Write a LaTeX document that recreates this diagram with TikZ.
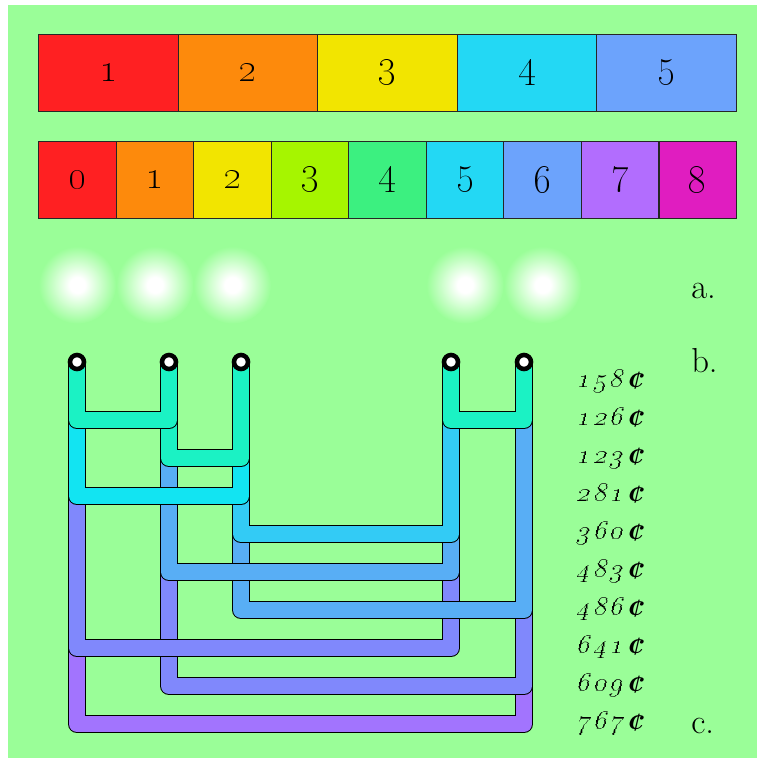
\documentclass[tikz,border=0pt]{standalone}
\usepackage{tikz}

\definecolor{boardgreen}{RGB}{154,254,152}
\definecolor{cellred}{RGB}{255,32,34}
\definecolor{cellorange}{RGB}{253,138,12}
\definecolor{cellyellow}{RGB}{242,229,0}
\definecolor{celllime}{RGB}{166,245,0}
\definecolor{cellgreen}{RGB}{60,240,128}
\definecolor{cellcyan}{RGB}{35,216,244}
\definecolor{cellblue}{RGB}{108,163,252}
\definecolor{cellviolet}{RGB}{178,109,254}
\definecolor{cellmagenta}{RGB}{224,29,192}
\definecolor{pipeteal}{RGB}{27,242,196}
\definecolor{pipecyan}{RGB}{18,228,242}
\definecolor{pipesky}{RGB}{51,203,245}
\definecolor{pipeblue}{RGB}{88,174,245}
\definecolor{pipeperi}{RGB}{128,136,252}
\definecolor{pipeviolet}{RGB}{162,116,254}

% soft white spot fading into the board
\pgfdeclareradialshading{glow}{\pgfpointorigin}{color(0bp)=(white); color(5bp)=(white); color(25bp)=(boardgreen); color(50bp)=(boardgreen)}

% spaced old-style price tag
\newcommand{\centlabel}[3]{\oldstylenums{#1}\kern.14em\oldstylenums{#2}\kern.14em\oldstylenums{#3}\kern.16em{\fontsize{23}{24}\selectfont\bfseries ¢}}

\begin{document}
\begin{tikzpicture}[x=0.75pt, y=-0.75pt,
  cell/.style={draw=black!85, line width=0.75pt, minimum height=57.3pt, inner sep=0pt, font=\fontsize{29}{32}\selectfont},
  wide/.style={cell, minimum width=104.7pt},
  narrow/.style={cell, minimum width=58.17pt},
  cost/.style={anchor=west, inner sep=0pt, text height=8.6pt, text depth=0pt, xslant=0.24, transform shape, font=\fontsize{20}{24}\selectfont},
  tag/.style={anchor=base west, inner sep=0pt, font=\fontsize{26}{30}\selectfont},
  pipe/.style={draw=black, line width=0.75pt, double=#1, double distance=12pt, line join=round},
  socket/.style={circle, draw=black, fill=white, line width=3.4pt, minimum size=10.5pt, inner sep=0pt}]

  % board
  \fill[white] (0,0) rectangle (757,758);
  \fill[boardgreen] (8,5) rectangle (757,758);

  % top row: five wide cells
  \node[wide, fill=cellred]    (w1) at (108.35,73) {\oldstylenums{1}};
  \node[wide, fill=cellorange] (w2) at (247.95,73) {\oldstylenums{2}};
  \node[wide, fill=cellyellow] (w3) at (387.55,73) {\oldstylenums{3}};
  \node[wide, fill=cellcyan]   (w4) at (527.15,73) {\oldstylenums{4}};
  \node[wide, fill=cellblue]   (w5) at (666.75,73) {\oldstylenums{5}};

  % second row: nine narrow cells
  \node[narrow, fill=cellred]     (n0) at (77.3,180)  {\oldstylenums{0}};
  \node[narrow, fill=cellorange]  (n1) at (154.9,180) {\oldstylenums{1}};
  \node[narrow, fill=cellyellow]  (n2) at (232.4,180) {\oldstylenums{2}};
  \node[narrow, fill=celllime]    (n3) at (310.0,180) {\oldstylenums{3}};
  \node[narrow, fill=cellgreen]   (n4) at (387.5,180) {\oldstylenums{4}};
  \node[narrow, fill=cellcyan]    (n5) at (465.1,180) {\oldstylenums{5}};
  \node[narrow, fill=cellblue]    (n6) at (542.7,180) {\oldstylenums{6}};
  \node[narrow, fill=cellviolet]  (n7) at (620.2,180) {\oldstylenums{7}};
  \node[narrow, fill=cellmagenta] (n8) at (697.8,180) {\oldstylenums{8}};

  % glowing spots
  \shade[shading=glow] (77.3,285) circle (29pt);
  \shade[shading=glow] (154.9,285) circle (29pt);
  \shade[shading=glow] (232.4,285) circle (29pt);
  \shade[shading=glow] (465.1,285) circle (29pt);
  \shade[shading=glow] (542.7,285) circle (29pt);

  % side tags
  \node[tag] (tagA) at (691,298) {a.};
  \node[tag] (tagB) at (691,372) {b.};
  \node[tag] (tagC) at (691,733) {c.};

  % prices, one per level
  \node[cost] (l1)  at (578,382) {\centlabel158};
  \node[cost] (l2)  at (578,420) {\centlabel126};
  \node[cost] (l3)  at (578,458) {\centlabel123};
  \node[cost] (l4)  at (578,496) {\centlabel281};
  \node[cost] (l5)  at (578,534) {\centlabel360};
  \node[cost] (l6)  at (578,572) {\centlabel483};
  \node[cost] (l7)  at (578,610) {\centlabel486};
  \node[cost] (l8)  at (578,648) {\centlabel641};
  \node[cost] (l9)  at (578,686) {\centlabel609};
  \node[cost] (l10) at (578,724) {\centlabel767};

  % socket columns
  \coordinate (colA) at (77,362);
  \coordinate (colB) at (169,362);
  \coordinate (colC) at (241,362);
  \coordinate (colD) at (451,362);
  \coordinate (colE) at (524,362);

  % pipes, deepest level first so the upper ones lie on top
  \draw[pipe=pipeviolet] (colA) -- (colA |- l10) -- (colE |- l10) -- (colE);
  \draw[pipe=pipeperi]   (colB) -- (colB |- l9) -- (colE |- l9) -- (colE);
  \draw[pipe=pipeperi]   (colA) -- (colA |- l8) -- (colD |- l8) -- (colD);
  \draw[pipe=pipeblue]   (colC) -- (colC |- l7) -- (colE |- l7) -- (colE);
  \draw[pipe=pipeblue]   (colB) -- (colB |- l6) -- (colD |- l6) -- (colD);
  \draw[pipe=pipesky]    (colC) -- (colC |- l5) -- (colD |- l5) -- (colD);
  \draw[pipe=pipecyan]   (colA) -- (colA |- l4) -- (colC |- l4) -- (colC);
  \draw[pipe=pipeteal]   (colB) -- (colB |- l3) -- (colC |- l3) -- (colC);
  \draw[pipe=pipeteal]   (colD) -- (colD |- l2) -- (colE |- l2) -- (colE);
  \draw[pipe=pipeteal]   (colA) -- (colA |- l2) -- (colB |- l2) -- (colB);

  % sockets
  \node[socket] (sA) at (colA) {};
  \node[socket] (sB) at (colB) {};
  \node[socket] (sC) at (colC) {};
  \node[socket] (sD) at (colD) {};
  \node[socket] (sE) at (colE) {};
\end{tikzpicture}
\end{document}
